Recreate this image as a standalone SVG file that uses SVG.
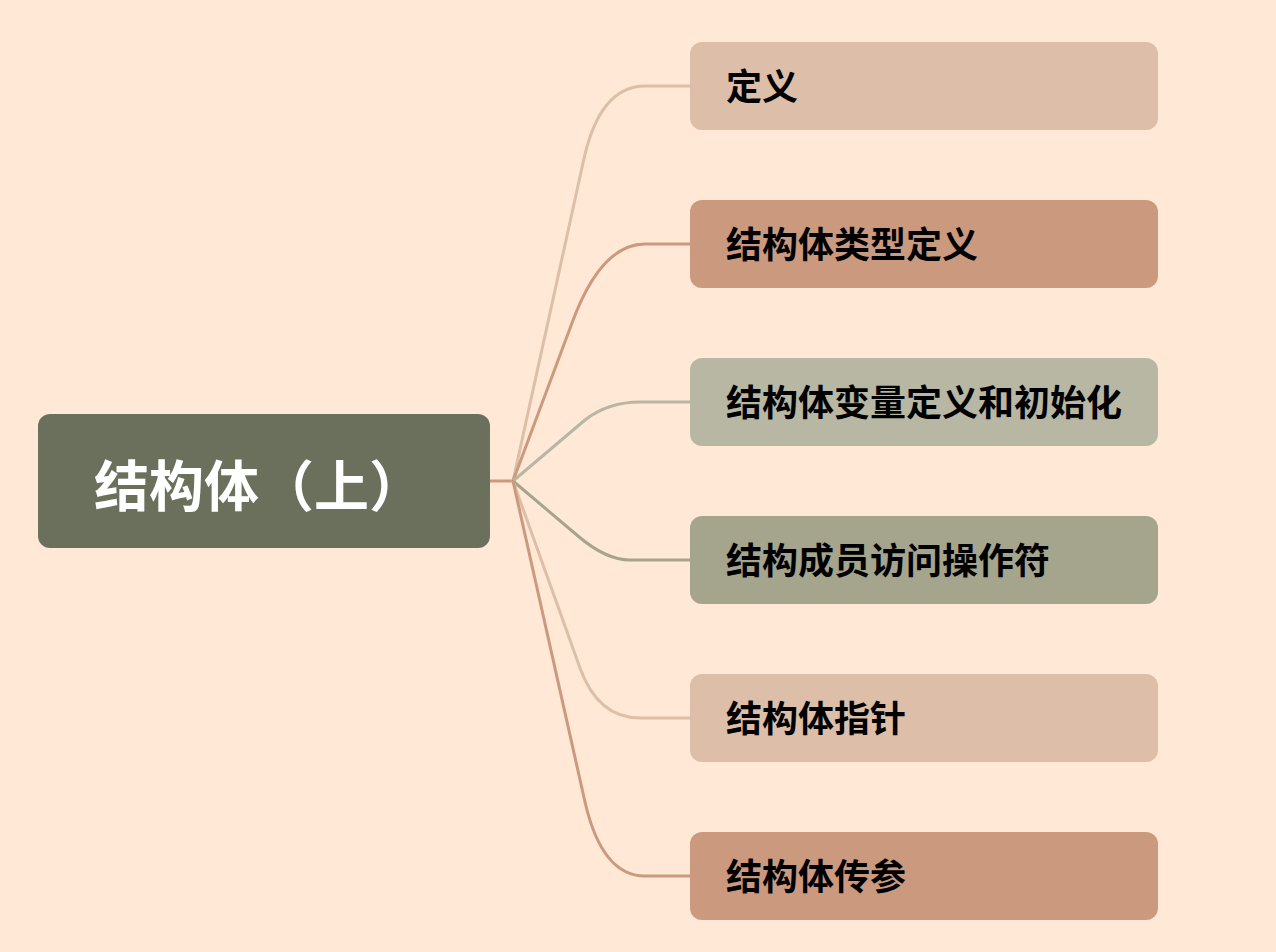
<svg xmlns="http://www.w3.org/2000/svg" width="1276" height="952" viewBox="0 0 1276 952">
<style>
.conn{fill:none;stroke-width:3;stroke-linecap:round;stroke-linejoin:round}
.lbl{font-family:"Noto Sans CJK SC","Noto Sans",sans-serif;font-weight:bold;font-size:36px;fill:#000}
.root{font-family:"Noto Sans CJK SC","Noto Sans",sans-serif;font-weight:bold;font-size:55px;fill:#fff}
</style>
<rect width="1276" height="952" fill="#ffe8d6"/>
<g id="connectors">
<path class="conn" stroke="#cb997e" d="M490,481 L513,481"/>
<path class="conn" stroke="#ddbea9" d="M513,481 L583,163 Q599,86 645,86 L690,86"/>
<path class="conn" stroke="#cb997e" d="M513,481 L572,323 Q601,244 645,244 L690,244"/>
<path class="conn" stroke="#b7b7a4" d="M513,481 L585,420 Q608,402 640,402 L690,402"/>
<path class="conn" stroke="#a5a58d" d="M513,481 L578,536 Q606,560 630,560 L690,560"/>
<path class="conn" stroke="#ddbea9" d="M513,481 L580,668 Q598,718 640,718 L690,718"/>
<path class="conn" stroke="#cb997e" d="M513,481 L585,802 Q602,876 645,876 L690,876"/>
</g>
<g id="root">
<rect x="38" y="414" width="452" height="134" rx="12" fill="#6b705c"/>
<text class="root" x="94" y="506">结构体（上）</text>
</g>
<g id="n1">
<rect x="690" y="42" width="468" height="88" rx="12" fill="#ddbea9"/>
<text class="lbl" x="726" y="100">定义</text>
</g>
<g id="n2">
<rect x="690" y="200" width="468" height="88" rx="12" fill="#cb997e"/>
<text class="lbl" x="726" y="258">结构体类型定义</text>
</g>
<g id="n3">
<rect x="690" y="358" width="468" height="88" rx="12" fill="#b7b7a4"/>
<text class="lbl" x="726" y="416">结构体变量定义和初始化</text>
</g>
<g id="n4">
<rect x="690" y="516" width="468" height="88" rx="12" fill="#a5a58d"/>
<text class="lbl" x="726" y="574">结构成员访问操作符</text>
</g>
<g id="n5">
<rect x="690" y="674" width="468" height="88" rx="12" fill="#ddbea9"/>
<text class="lbl" x="726" y="732">结构体指针</text>
</g>
<g id="n6">
<rect x="690" y="832" width="468" height="88" rx="12" fill="#cb997e"/>
<text class="lbl" x="726" y="890">结构体传参</text>
</g>
</svg>
